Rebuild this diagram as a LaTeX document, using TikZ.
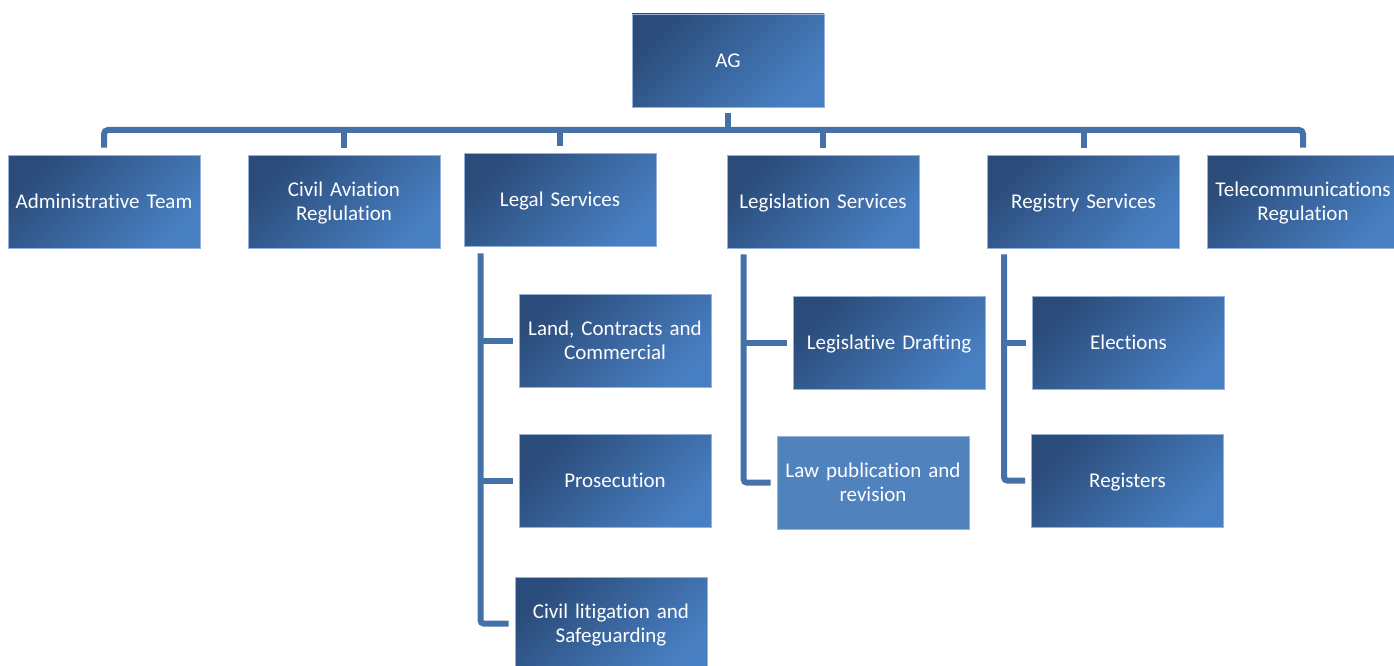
\documentclass[tikz,border=0pt]{standalone}
\usepackage{fontspec}
\setmainfont{Carlito}[Ligatures={NoCommon,NoContextual,NoRequired}]
\usetikzlibrary{calc}
\definecolor{boxdark}{RGB}{43,76,122}
\definecolor{boxlight}{RGB}{72,127,194}
\definecolor{boxflat}{RGB}{80,130,190}
\definecolor{boxedge}{RGB}{150,178,218}
\definecolor{conncol}{RGB}{68,113,168}
\tikzset{
  basebox/.style={rectangle, draw=boxedge, line width=0.8pt,
    minimum width=192pt, minimum height=93pt, inner sep=0pt,
    text width=188pt, align=center, text=white,
    font=\fontsize{21}{24}\selectfont},
  orgbox/.style={basebox, top color=boxdark, bottom color=boxlight, shading angle=45},
  flatbox/.style={basebox, fill=boxflat},
  oneline/.style={text depth=0pt},
  twoline/.style={text depth=25pt},
  conn/.style={draw=conncol, line width=6pt},
}
\begin{document}
\begin{tikzpicture}[x=1pt,y=-1pt]
\useasboundingbox (0,0) rectangle (1394,666);
\clip (0,0) rectangle (1394,666);
% top
\node[orgbox,oneline] (ag) at (728,60.5) {AG};
% level 1
\node[orgbox,oneline] (admin) at (104,201.5) {Administrative Team};
\node[orgbox,twoline] (civil) at (344,201.5) {Civil Aviation\\Reglulation};
\node[orgbox,oneline] (legal) at (560,199.5) {Legal Services};
\node[orgbox,oneline] (legis) at (823,201.5) {Legislation Services};
\node[orgbox,oneline] (registry) at (1083.5,201.5) {Registry Services};
\node[orgbox,twoline] (tele) at (1303,201.5) {Telecommunications\\Regulation};
% legal children
\node[orgbox,twoline] (land) at (615,340.5) {Land, Contracts and\\Commercial};
\node[orgbox,oneline] (prosec) at (615,480.5) {Prosecution};
\node[orgbox,twoline] (civlit) at (611,623.5) {Civil litigation and\\Safeguarding};
% legislation children
\node[orgbox,oneline] (drafting) at (889,342.5) {Legislative Drafting};
\node[flatbox,twoline] (lawpub) at (873,482.5) {Law publication and\\revision};
% registry children
\node[orgbox,oneline] (elections) at (1128.5,342.5) {Elections};
\node[orgbox,oneline] (registers) at (1127.5,480.5) {Registers};

% connectors level 0 -> 1
\coordinate (bar) at (0,130);
\draw[conn] ($(ag.south)+(0,6)$) -- (ag.south |- bar);
\draw[conn, rounded corners=4pt] ($(admin.north)+(0,-7)$) |- ($(tele.north |- bar)$) -- ($(tele.north)+(0,-7)$);
\foreach \n in {civil,legal,legis,registry}{
  \draw[conn] (\n.north |- bar) -- ($(\n.north)+(0,-7)$);
}

% legal subtree
\coordinate (lv) at ($(legal.south west)+(17,7)$);
\draw[conn, rounded corners=3pt] (lv) |- ($(civlit.west)+(-6,0)$);
\draw[conn] (lv |- land.west) -- ($(land.west)+(-6,0)$);
\draw[conn] (lv |- prosec.west) -- ($(prosec.west)+(-6,0)$);

% legislation subtree
\coordinate (gv) at ($(legis.south west)+(17,6)$);
\draw[conn, rounded corners=3pt] (gv) |- ($(lawpub.west)+(-6,0)$);
\draw[conn] (gv |- drafting.west) -- ($(drafting.west)+(-6,0)$);

% registry subtree
\coordinate (rv) at ($(registry.south west)+(17,6)$);
\draw[conn, rounded corners=3pt] (rv) |- ($(registers.west)+(-6,0)$);
\draw[conn] (rv |- elections.west) -- ($(elections.west)+(-6,0)$);
\end{tikzpicture}
\end{document}
